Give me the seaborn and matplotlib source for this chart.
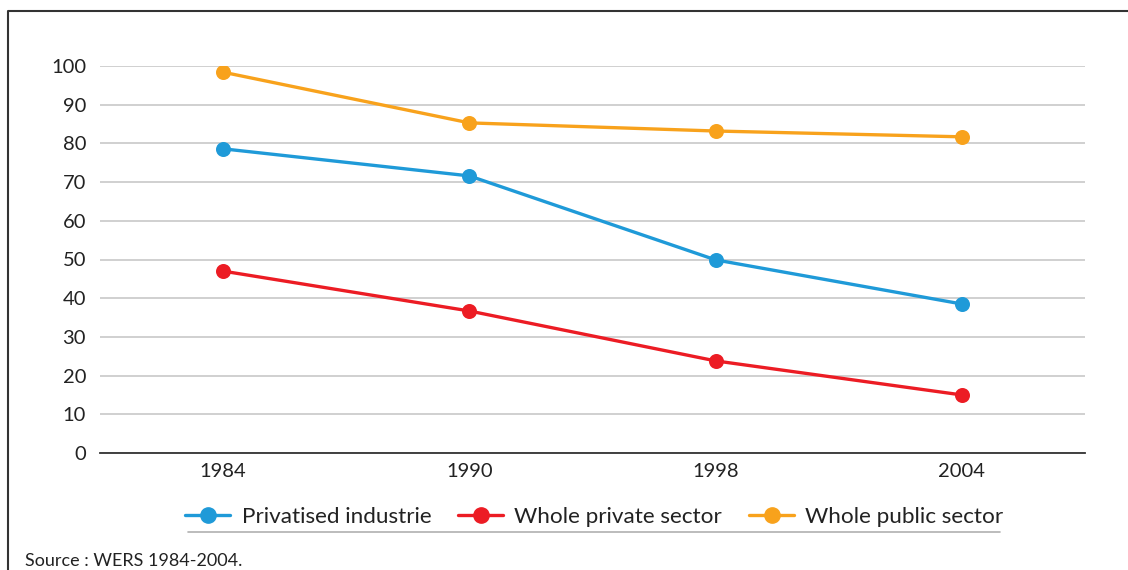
import matplotlib
matplotlib.use("Agg")
import matplotlib.pyplot as plt
from matplotlib.lines import Line2D
import seaborn as sns
import pandas as pd

years = ["1984", "1990", "1998", "2004"]
series_names = ["Privatised industrie", "Whole private sector", "Whole public sector"]
privatised = [78.6, 71.6, 49.9, 38.5]
private = [47.0, 36.7, 23.8, 15.0]
public = [98.4, 85.3, 83.2, 81.7]
colors = ["#1f9ad8", "#ec1c24", "#f8a21c"]
yticks = [0, 10, 20, 30, 40, 50, 60, 70, 80, 90, 100]
source_text = "Source : WERS 1984-2004."

df = pd.DataFrame({
    "year": years * 3,
    "value": privatised + private + public,
    "series": [series_names[0]] * 4 + [series_names[1]] * 4 + [series_names[2]] * 4,
})

sns.set_theme(style="white")
plt.rcParams["font.family"] = ["Lato", "DejaVu Sans"]

fig = plt.figure(figsize=(11.28, 5.70), dpi=100)
ax = fig.add_axes([100 / 1128, 1 - 453 / 570, 985 / 1128, (453 - 66) / 570])

sns.pointplot(data=df, x="year", y="value", hue="series", order=years,
              hue_order=series_names, palette=colors, markers="o",
              linestyles="-", ax=ax, dodge=False, errorbar=None,
              markersize=9, linewidth=2.4)

ax.set_xlim(-0.5, 3.5)
ax.set_ylim(0, 100)
ax.set_yticks(yticks)
ax.set_yticklabels([str(t) for t in yticks])
ax.yaxis.grid(True, color="#c8c8c8", linewidth=1.2)
ax.set_axisbelow(True)
for s in ["top", "right", "left"]:
    ax.spines[s].set_visible(False)
ax.spines["bottom"].set_color("#333333")
ax.spines["bottom"].set_linewidth(1.3)
ax.set_xlabel("")
ax.set_ylabel("")
ax.tick_params(axis="y", length=0, pad=10, labelsize=14.5, labelcolor="#222222")
ax.tick_params(axis="x", which="major", length=0, pad=7, labelsize=14.5, labelcolor="#222222")
ax.set_xticks([0.5, 1.5, 2.5], minor=True)
ax.tick_params(axis="x", which="minor", direction="inout", length=20, width=1.0, color="#bbbbbb")

ax.get_legend().remove()
handles = [Line2D([0], [0], color=c, lw=2.4, marker="o", markersize=11) for c in colors]
fig.legend(handles, series_names, loc="center", bbox_to_anchor=(0.527, 0.093), ncol=3,
           frameon=False, fontsize=16.2, handlelength=2.0, columnspacing=1.2,
           handletextpad=0.5, labelcolor="#222222")

fig.add_artist(Line2D([188 / 1128, 1000 / 1128], [1 - 532 / 570] * 2,
                      transform=fig.transFigure, color="#b0b0b0", lw=1.2))
fig.add_artist(Line2D([8 / 1128, 8 / 1128, 1.0], [0.0, 1 - 11 / 570, 1 - 11 / 570],
                      transform=fig.transFigure, color="#333333", lw=1.5))
fig.text(25 / 1128, 1 - 561 / 570, source_text, fontsize=13, color="#222222",
         ha="left", va="center")

fig.savefig("out.png", dpi=100)
